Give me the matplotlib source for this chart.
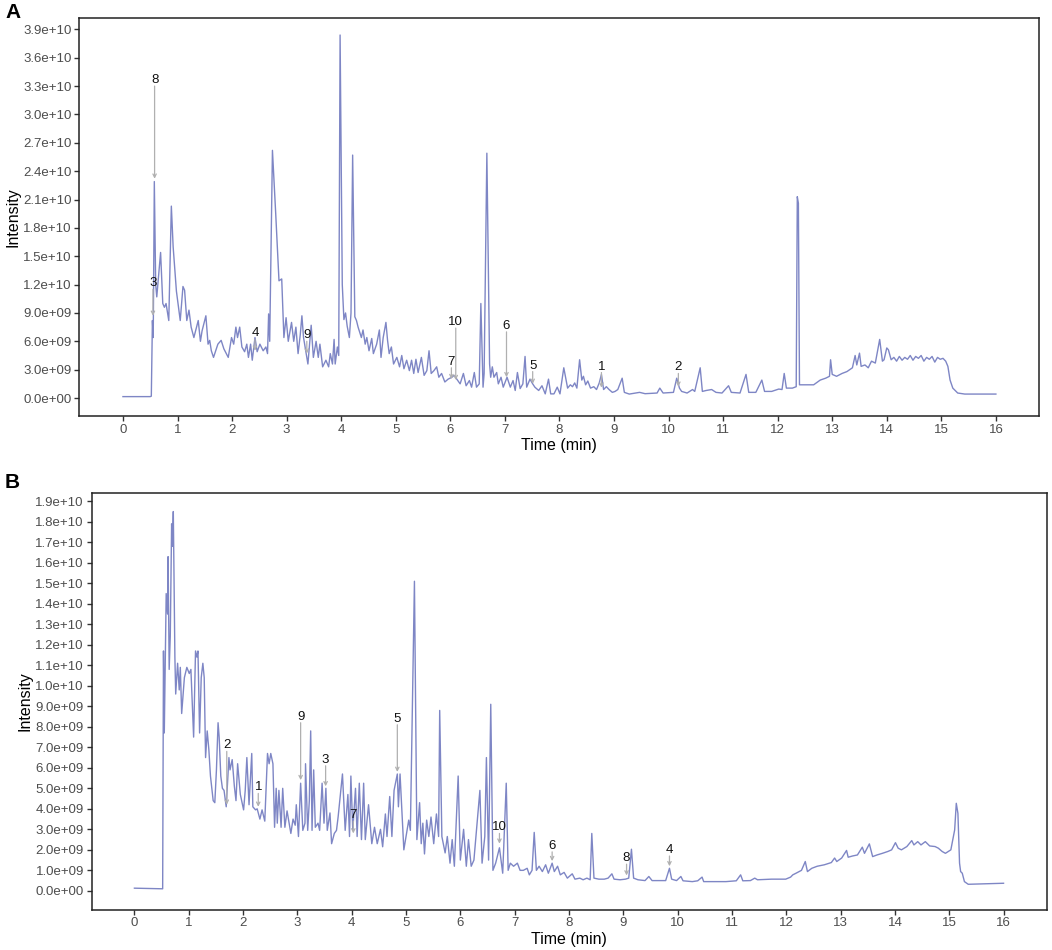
import numpy as np
import matplotlib
matplotlib.use("Agg")
import matplotlib.pyplot as plt
from matplotlib.ticker import FuncFormatter, MultipleLocator

plt.rcParams['font.family'] = ['Liberation Sans', 'DejaVu Sans']

E9 = 1e9  # intensities below are in units of 1e9

# ---------------- Panel A chromatogram ----------------
a_time = [0.00, 0.50, 0.52, 0.54, 0.555, 0.575, 0.60, 0.62, 0.69, 0.73, 0.76, 0.79, 0.84, 0.887,
          0.92, 0.98, 1.05, 1.10, 1.13, 1.17, 1.21, 1.25, 1.30, 1.38, 1.42, 1.45, 1.52, 1.56,
          1.59, 1.62, 1.66, 1.74, 1.80, 1.85, 1.93, 1.99, 2.03, 2.07, 2.10, 2.14, 2.18, 2.23,
          2.27, 2.30, 2.34, 2.37, 2.42, 2.46, 2.51, 2.57, 2.62, 2.65, 2.67, 2.69, 2.74, 2.80,
          2.86, 2.91, 2.95, 2.99, 3.03, 3.09, 3.13, 3.17, 3.21, 3.25, 3.28, 3.31, 3.35, 3.39,
          3.45, 3.49, 3.54, 3.58, 3.61, 3.66, 3.72, 3.77, 3.80, 3.84, 3.87, 3.89, 3.93, 3.955,
          3.98, 4.02, 4.05, 4.08, 4.11, 4.15, 4.18, 4.21, 4.25, 4.28, 4.31, 4.37, 4.40, 4.44,
          4.47, 4.51, 4.56, 4.59, 4.65, 4.70, 4.73, 4.77, 4.82, 4.85, 4.88, 4.92, 4.96, 5.02,
          5.07, 5.11, 5.15, 5.20, 5.25, 5.29, 5.33, 5.37, 5.41, 5.47, 5.52, 5.57, 5.61, 5.65,
          5.70, 5.75, 5.79, 5.84, 5.90, 5.96, 6.03, 6.07, 6.12, 6.18, 6.24, 6.29, 6.35, 6.39,
          6.44, 6.48, 6.53, 6.56, 6.60, 6.62, 6.67, 6.72, 6.74, 6.77, 6.80, 6.85, 6.88, 6.93,
          6.97, 7.04, 7.10, 7.15, 7.19, 7.23, 7.28, 7.33, 7.37, 7.40, 7.46, 7.51, 7.55, 7.62,
          7.68, 7.74, 7.80, 7.84, 7.90, 7.96, 8.01, 8.08, 8.15, 8.20, 8.24, 8.28, 8.32, 8.37,
          8.41, 8.44, 8.48, 8.52, 8.57, 8.63, 8.68, 8.73, 8.77, 8.81, 8.86, 8.91, 8.97, 9.02,
          9.07, 9.15, 9.19, 9.28, 9.47, 9.57, 9.79, 9.84, 9.90, 10.09, 10.15, 10.20, 10.24, 10.34,
          10.44, 10.48, 10.58, 10.62, 10.69, 10.79, 10.87, 10.98, 11.10, 11.15, 11.31, 11.42, 11.47, 11.60,
          11.71, 11.76, 11.89, 12.02, 12.08, 12.12, 12.16, 12.27, 12.34, 12.36, 12.38, 12.40, 12.53, 12.66,
          12.78, 12.88, 12.95, 12.97, 13.00, 13.08, 13.18, 13.27, 13.37, 13.42, 13.45, 13.50, 13.53, 13.60,
          13.66, 13.72, 13.79, 13.87, 13.92, 13.95, 14.00, 14.03, 14.08, 14.13, 14.18, 14.23, 14.28, 14.33,
          14.38, 14.43, 14.48, 14.53, 14.58, 14.63, 14.68, 14.73, 14.78, 14.83, 14.88, 14.93, 14.98, 15.03,
          15.08, 15.12, 15.16, 15.21, 15.30, 15.43, 16.00]
a_intensity = [0.15, 0.15, 0.20, 8.2, 6.4, 22.9, 12.0, 10.7, 15.4, 10.0, 9.6, 10.0, 8.2, 20.3,
               16.0, 11.3, 8.2, 11.8, 11.4, 8.2, 9.3, 7.5, 6.4, 8.2, 6.0, 7.1, 8.7, 5.7,
               6.1, 5.0, 4.3, 5.7, 6.1, 5.2, 4.3, 6.4, 5.7, 7.5, 6.4, 7.5, 5.4, 4.9,
               5.7, 4.3, 5.7, 4.0, 6.4, 4.9, 5.7, 5.0, 5.4, 4.7, 8.9, 6.0, 26.2, 19.5,
               12.4, 12.6, 6.4, 8.5, 6.0, 8.0, 6.0, 7.5, 4.7, 6.7, 8.7, 6.4, 5.0, 3.6,
               7.7, 4.3, 6.0, 4.3, 5.7, 3.3, 4.0, 3.3, 4.7, 3.6, 6.2, 3.6, 5.4, 4.5,
               38.4, 12.0, 8.3, 9.0, 7.6, 6.4, 9.0, 25.7, 8.6, 8.2, 7.5, 6.4, 7.2, 5.7,
               6.4, 5.0, 6.3, 4.7, 5.7, 7.2, 4.3, 6.4, 8.0, 6.1, 4.7, 5.4, 3.6, 4.3,
               3.3, 4.5, 3.1, 4.0, 2.9, 4.0, 2.6, 4.1, 2.7, 4.3, 2.4, 2.9, 5.0, 2.6,
               2.9, 3.3, 2.2, 2.6, 1.7, 2.0, 2.2, 2.4, 2.0, 1.5, 2.6, 1.3, 1.85, 1.15,
               2.7, 1.15, 1.5, 10.0, 1.15, 2.6, 25.9, 3.6, 2.2, 3.3, 2.2, 2.7, 1.5, 2.2,
               1.15, 2.2, 1.15, 1.85, 0.8, 2.7, 1.0, 1.5, 4.4, 1.15, 2.0, 1.5, 1.15, 0.8,
               1.3, 0.44, 2.0, 0.44, 0.44, 1.15, 0.44, 3.2, 1.05, 1.4, 1.2, 1.6, 1.05, 4.05,
               1.9, 2.3, 1.4, 1.8, 1.05, 1.2, 0.9, 1.6, 2.5, 0.9, 1.2, 0.9, 0.6, 0.7,
               0.9, 2.1, 0.6, 0.42, 0.6, 0.46, 0.53, 1.05, 0.53, 0.6, 2.1, 1.05, 0.7, 0.53,
               0.9, 0.7, 3.2, 0.7, 0.8, 0.9, 0.6, 0.53, 1.3, 0.6, 0.53, 2.5, 0.6, 0.6,
               1.9, 0.7, 0.7, 0.95, 0.9, 2.6, 1.05, 1.05, 1.2, 21.3, 20.6, 1.4, 1.4, 1.4,
               1.9, 2.1, 2.3, 4.05, 2.5, 2.3, 2.6, 2.8, 3.2, 4.5, 3.5, 4.75, 3.35, 3.5,
               3.2, 3.9, 3.7, 6.2, 3.9, 4.05, 5.3, 5.1, 4.05, 4.3, 3.9, 4.4, 4.0, 4.3,
               4.1, 4.5, 4.0, 4.4, 4.2, 4.5, 3.9, 4.3, 4.1, 4.4, 3.8, 4.3, 4.1, 4.2,
               3.9, 3.35, 1.9, 1.05, 0.53, 0.42, 0.42]

# compound labels on panel A: position, label top, arrow tip
a_labels = ['8', '3', '4', '9', '10', '7', '6', '5', '1', '2']
a_label_time = [0.58, 0.55, 2.42, 3.37, 6.10, 6.02, 7.03, 7.51, 8.77, 10.18]
a_arrow_start = [33.0, 11.5, 6.2, 6.0, 7.4, 3.2, 7.0, 2.8, 2.7, 2.6]
a_arrow_end = [23.2, 8.7, 5.0, 4.7, 1.9, 2.0, 2.2, 1.5, 1.1, 1.2]

# ---------------- Panel B chromatogram ----------------
b_time = [0.00, 0.52, 0.535, 0.55, 0.585, 0.61, 0.62, 0.64, 0.66, 0.685, 0.70, 0.716, 0.745, 0.76,
          0.795, 0.825, 0.845, 0.87, 0.92, 0.965, 1.01, 1.04, 1.09, 1.125, 1.15, 1.17, 1.20, 1.23,
          1.26, 1.285, 1.31, 1.34, 1.37, 1.40, 1.45, 1.48, 1.51, 1.54, 1.56, 1.59, 1.62, 1.65,
          1.69, 1.74, 1.76, 1.80, 1.84, 1.87, 1.90, 1.95, 2.01, 2.04, 2.07, 2.11, 2.16, 2.18,
          2.23, 2.26, 2.31, 2.35, 2.40, 2.45, 2.48, 2.51, 2.55, 2.58, 2.61, 2.63, 2.66, 2.70,
          2.73, 2.77, 2.81, 2.88, 2.92, 2.96, 2.98, 3.02, 3.06, 3.10, 3.14, 3.15, 3.19, 3.22,
          3.245, 3.27, 3.30, 3.33, 3.38, 3.41, 3.455, 3.49, 3.525, 3.55, 3.60, 3.63, 3.68, 3.72,
          3.75, 3.83, 3.88, 3.93, 3.96, 3.985, 4.02, 4.07, 4.10, 4.14, 4.18, 4.22, 4.25, 4.31,
          4.37, 4.42, 4.47, 4.53, 4.57, 4.62, 4.65, 4.70, 4.74, 4.78, 4.84, 4.86, 4.89, 4.96,
          5.05, 5.08, 5.155, 5.20, 5.25, 5.28, 5.31, 5.34, 5.38, 5.42, 5.46, 5.51, 5.56, 5.60,
          5.62, 5.66, 5.72, 5.76, 5.81, 5.85, 5.89, 5.96, 6.00, 6.06, 6.11, 6.15, 6.20, 6.25,
          6.36, 6.40, 6.45, 6.48, 6.52, 6.56, 6.60, 6.65, 6.72, 6.78, 6.845, 6.88, 6.92, 6.98,
          7.05, 7.10, 7.16, 7.23, 7.27, 7.32, 7.36, 7.40, 7.45, 7.51, 7.57, 7.62, 7.69, 7.73,
          7.79, 7.84, 7.91, 7.97, 8.06, 8.11, 8.20, 8.26, 8.33, 8.39, 8.42, 8.46, 8.55, 8.65,
          8.72, 8.79, 8.83, 8.94, 9.04, 9.10, 9.15, 9.19, 9.27, 9.40, 9.47, 9.53, 9.78, 9.85,
          9.89, 9.98, 10.06, 10.10, 10.27, 10.37, 10.45, 10.48, 10.89, 11.08, 11.16, 11.20, 11.34, 11.42,
          11.47, 11.73, 11.99, 12.08, 12.12, 12.18, 12.28, 12.35, 12.39, 12.47, 12.57, 12.70, 12.83, 12.89,
          12.93, 13.02, 13.11, 13.14, 13.22, 13.31, 13.40, 13.44, 13.53, 13.59, 13.67, 13.77, 13.87, 13.94,
          14.01, 14.06, 14.12, 14.22, 14.31, 14.35, 14.42, 14.48, 14.56, 14.64, 14.74, 14.80, 14.87, 14.93,
          15.03, 15.10, 15.13, 15.16, 15.19, 15.21, 15.24, 15.28, 15.35, 16.00]
b_intensity = [0.13, 0.10, 11.7, 7.7, 14.5, 13.5, 16.3, 10.8, 12.4, 17.9, 16.8, 18.5, 11.4, 9.6,
               11.1, 9.8, 10.9, 8.65, 10.4, 10.9, 10.6, 10.8, 7.5, 11.7, 11.4, 11.7, 7.7, 10.4,
               11.1, 10.4, 6.5, 7.8, 6.9, 5.6, 4.4, 4.3, 5.9, 8.2, 7.5, 5.6, 5.0, 4.9,
               4.1, 6.5, 5.9, 6.4, 5.1, 4.4, 6.2, 4.7, 3.95, 4.9, 6.5, 4.2, 6.7, 4.1,
               3.95, 4.0, 3.5, 3.95, 3.4, 6.7, 6.2, 6.7, 6.2, 3.1, 5.0, 3.3, 4.9, 3.1,
               5.0, 3.1, 3.9, 2.8, 3.5, 3.2, 4.2, 2.65, 5.25, 2.95, 3.3, 6.2, 2.95, 4.4,
               7.8, 2.95, 5.9, 3.1, 3.3, 2.95, 5.25, 3.3, 5.0, 2.95, 3.8, 2.3, 2.8, 2.95,
               3.6, 5.7, 2.95, 4.7, 2.65, 5.6, 2.95, 5.0, 2.65, 5.25, 2.5, 5.25, 2.5, 4.2,
               2.3, 3.1, 2.3, 3.0, 2.15, 3.75, 2.65, 4.6, 2.65, 4.9, 5.7, 4.1, 5.7, 2.0,
               3.45, 2.95, 15.1, 2.5, 4.3, 2.3, 3.3, 1.8, 3.45, 2.65, 3.6, 2.3, 3.75, 2.65,
               8.8, 2.65, 1.85, 2.65, 1.35, 2.5, 1.2, 5.6, 1.5, 3.0, 1.2, 2.5, 1.2, 1.5,
               4.9, 1.35, 2.65, 6.5, 1.5, 9.1, 1.0, 1.35, 2.1, 0.86, 5.25, 1.0, 1.35, 1.2,
               1.35, 1.0, 1.0, 1.1, 0.78, 1.0, 2.85, 1.0, 1.2, 0.94, 1.27, 0.86, 1.35, 0.94,
               1.2, 0.78, 0.9, 0.62, 0.83, 0.57, 0.62, 0.54, 0.62, 0.54, 2.8, 0.62, 0.57, 0.57,
               0.62, 0.83, 0.57, 0.54, 0.57, 0.62, 2.03, 0.62, 0.54, 0.50, 0.70, 0.50, 0.50, 1.1,
               0.57, 0.50, 0.70, 0.49, 0.45, 0.49, 0.67, 0.45, 0.45, 0.49, 0.78, 0.49, 0.50, 0.62,
               0.54, 0.57, 0.57, 0.67, 0.78, 0.86, 1.0, 1.43, 0.94, 1.1, 1.2, 1.27, 1.38, 1.6,
               1.43, 1.6, 1.97, 1.64, 1.7, 1.75, 2.13, 1.83, 2.29, 1.67, 1.75, 1.83, 1.92, 2.0,
               2.35, 2.08, 2.0, 2.16, 2.45, 2.24, 2.4, 2.24, 2.4, 2.19, 2.16, 2.08, 1.92, 1.83,
               2.0, 2.97, 4.27, 3.78, 1.35, 0.94, 0.86, 0.45, 0.32, 0.37]

b_labels = ['2', '1', '9', '3', '7', '5', '10', '6', '8', '4']
b_label_time = [1.70, 2.28, 3.06, 3.52, 4.03, 4.84, 6.72, 7.69, 9.06, 9.85]
b_arrow_start = [6.8, 4.75, 8.2, 6.1, 3.4, 8.1, 2.8, 1.9, 1.3, 1.7]
b_arrow_end = [4.2, 4.1, 5.4, 5.1, 2.8, 5.8, 2.3, 1.45, 0.75, 1.2]

line_color = '#7e86c5'
W, H = 1052, 950

fig = plt.figure(figsize=(W / 100, H / 100), dpi=100)


def px_axes(left, top, right, bottom):
    return fig.add_axes([left / W, 1 - bottom / H, (right - left) / W, (bottom - top) / H])


def style(ax, xlim, ylim, ystep):
    ax.set_xlim(*xlim)
    ax.set_ylim(ylim[0] * E9, ylim[1] * E9)
    ax.xaxis.set_major_locator(MultipleLocator(1))
    ax.yaxis.set_major_locator(MultipleLocator(ystep * E9))
    ax.yaxis.set_major_formatter(FuncFormatter(lambda v, p: f"{v:.1e}"))
    ax.tick_params(axis='both', labelsize=9.5, labelcolor='#4d4d4d', color='#333333',
                   length=3.5, width=1.0, pad=2)
    for s in ax.spines.values():
        s.set_linewidth(1.1)
        s.set_color('#222222')
    ax.set_xlabel('Time (min)', fontsize=11.5, labelpad=2)
    ax.set_ylabel('Intensity', fontsize=11.5, labelpad=2)


def annotate(ax, labels, times, starts, ends):
    for lab, t, y0, y1 in zip(labels, times, starts, ends):
        ax.annotate('', xy=(t, y1 * E9), xytext=(t, y0 * E9),
                    arrowprops=dict(arrowstyle='->', color='#b0b0b0', lw=0.9,
                                    shrinkA=0, shrinkB=0, mutation_scale=6))
        ax.text(t, y0 * E9, lab, ha='center', va='bottom', fontsize=9.5, color='#111111')


ax_a = px_axes(79.3, 18, 1039, 416)
ax_a.plot(a_time, np.array(a_intensity) * E9, color=line_color, lw=1.0)
style(ax_a, (-0.80, 16.79), (-1.90, 40.2), 3)
annotate(ax_a, a_labels, a_label_time, a_arrow_start, a_arrow_end)

ax_b = px_axes(91.5, 493.3, 1047, 909.5)
ax_b.plot(b_time, np.array(b_intensity) * E9, color=line_color, lw=1.0)
style(ax_b, (-0.79, 16.80), (-0.91, 19.39), 1)
annotate(ax_b, b_labels, b_label_time, b_arrow_start, b_arrow_end)

fig.text(5 / W, 1 - 17.6 / H, 'A', fontsize=15, fontweight='bold', va='baseline')
fig.text(5 / W, 1 - 488.3 / H, 'B', fontsize=15, fontweight='bold', va='baseline')

fig.savefig('out.png', dpi=100)
